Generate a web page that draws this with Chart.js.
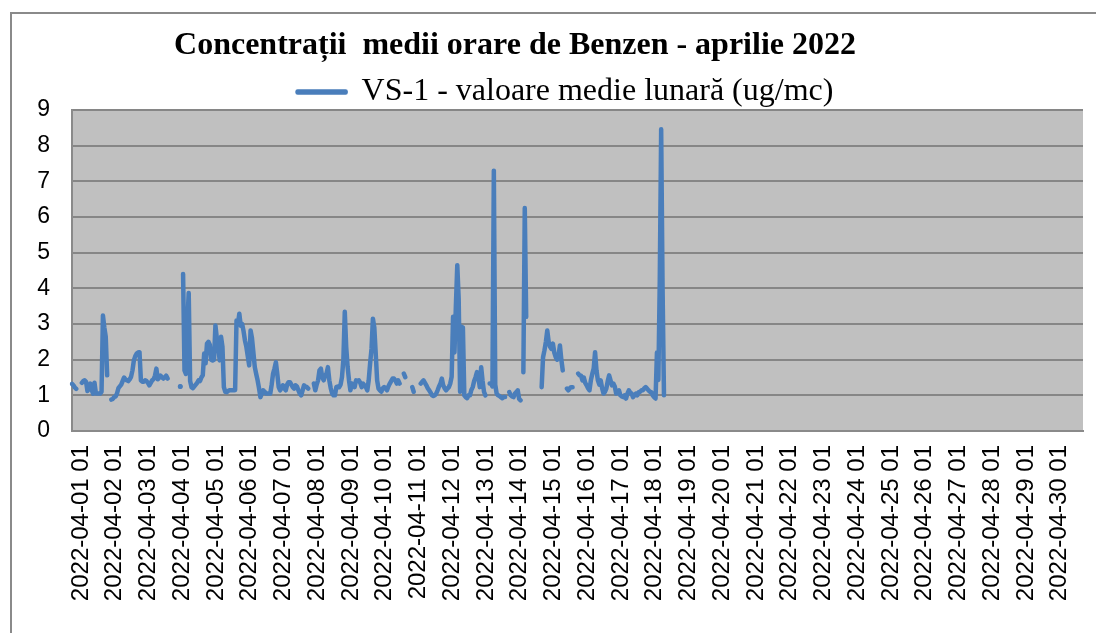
<!DOCTYPE html>
<html>
<head>
    <title>Benzen - aprilie 2022</title>
    <script src="https://cdn.jsdelivr.net/npm/chart.js"></script>
    <style>
        body {
            margin: 0;
            background: white;
            overflow: hidden;
        }
        #frame {
            position: absolute;
            left: 10px;
            top: 12px;
            width: 1200px;
            height: 700px;
            border: 2px solid #8a8a8a;
        }
        #wrap {
            position: absolute;
            left: 0;
            top: 0;
            width: 1133px;
            height: 633px;
        }
    </style>
</head>
<body>
    <div id="frame"></div>
    <div id="wrap"><canvas id="benzenChart" width="1133" height="633"></canvas></div>
    <script>
        const chartTitle = 'Concentrații  medii orare de Benzen - aprilie 2022';
        const seriesName = 'VS-1 - valoare medie lunară (ug/mc)';
        const yTicks = [0, 1, 2, 3, 4, 5, 6, 7, 8, 9];
        const days = ['01', '02', '03', '04', '05', '06', '07', '08', '09', '10',
                      '11', '12', '13', '14', '15', '16', '17', '18', '19', '20',
                      '21', '22', '23', '24', '25', '26', '27', '28', '29', '30'];

        // valori orare, cate 24 pe zi (de la ora 01)
        const day01 = [1.32, 1.28, 1.22, 1.18, null, null, null, 1.35, 1.40, 1.42, 1.38, 1.12, 1.20, 1.33, 1.15, 1.05, 1.35, 1.05, 1.05, 1.05, 1.05, 1.10, 3.24, 2.90];
        const day02 = [2.64, 1.56, null, null, 0.88, 0.90, 0.95, 0.97, 1.05, 1.20, 1.25, 1.30, 1.40, 1.50, 1.45, 1.42, 1.40, 1.45, 1.52, 1.70, 1.98, 2.10, 2.17, 2.20];
        const day03 = [2.21, 1.42, 1.38, 1.38, 1.42, 1.40, 1.35, 1.28, 1.35, 1.42, 1.45, 1.55, 1.75, 1.45, 1.50, 1.55, 1.50, 1.47, 1.50, 1.55, 1.47, null, null, null];
        const day04 = [null, null, null, null, null, 1.25, null, 4.40, 1.70, 1.60, 3.00, 3.87, 1.40, 1.23, 1.20, 1.25, 1.30, 1.35, 1.42, 1.40, 1.50, 1.56, 2.17, 1.90];
        const day05 = [2.45, 2.50, 2.42, 2.00, 1.98, 2.00, 2.96, 2.60, 2.36, 1.98, 2.64, 2.36, 1.23, 1.10, 1.09, 1.12, 1.14, 1.14, 1.14, 1.14, 1.15, 3.10, 3.00, 3.29];
        const day06 = [2.95, 3.00, 2.80, 2.54, 2.36, 2.10, 1.84, 2.82, 2.60, 2.20, 1.79, 1.60, 1.42, 1.20, 0.95, 1.05, 1.14, 1.10, 1.05, 1.05, 1.05, 1.05, 1.30, 1.61];
        const day07 = [1.75, 1.93, 1.60, 1.23, 1.14, 1.20, 1.28, 1.20, 1.14, 1.30, 1.37, 1.37, 1.30, 1.23, 1.19, 1.28, 1.25, 1.14, 1.05, 1.00, 1.14, 1.28, 1.25, 1.23];
        const day08 = [1.19, null, null, null, 1.33, 1.14, 1.30, 1.42, 1.70, 1.75, 1.50, 1.42, 1.55, 1.61, 1.79, 1.42, 1.20, 1.05, 1.00, 1.00, 1.23, 1.25, 1.23, 1.30];
        const day09 = [1.51, 2.00, 3.34, 2.36, 1.80, 1.42, 1.14, 1.33, 1.30, 1.23, 1.42, 1.40, 1.42, 1.35, 1.23, 1.33, 1.28, 1.23, 1.14, 1.42, 1.89, 2.30, 3.15, 2.90];
        const day10 = [2.17, 1.42, 1.19, 1.14, 1.10, 1.20, 1.23, 1.20, 1.14, 1.25, 1.33, 1.40, 1.47, 1.47, 1.42, 1.33, 1.42, 1.33, null, null, 1.61, 1.51, null, null];
        const day11 = [null, null, 1.23, 1.10, null, null, null, null, 1.33, 1.38, 1.42, 1.35, 1.28, 1.20, 1.14, 1.08, 1.00, 0.98, 1.00, 1.05, 1.14, 1.25, 1.33, 1.47];
        const day12 = [1.28, 1.20, 1.14, 1.19, 1.23, 1.33, 1.52, 3.20, 2.20, 3.50, 4.65, 3.70, 1.10, 2.92, 2.90, 1.00, 0.95, 0.92, 1.00, 1.00, 1.15, 1.23, 1.40, 1.51];
        const day13 = [1.65, 1.50, 1.23, 1.79, 1.40, 1.10, 1.00, null, null, 1.33, 1.33, 1.25, 7.30, 1.30, 1.05, 1.00, 0.98, 0.95, 0.92, 0.95, 0.95, null, null, 1.09];
        const day14 = [1.00, 0.97, 0.95, 1.05, 1.09, 1.14, 0.90, 0.86, null, 1.65, 6.25, 3.20, null, null, null, null, null, null, null, null, null, null, 1.23, 2.07];
        const day15 = [2.26, 2.50, 2.82, 2.50, 2.36, 2.30, 2.45, 2.20, 2.07, 2.00, 2.10, 2.40, 2.00, 1.70, null, null, 1.19, 1.14, 1.20, 1.23, 1.23, null, null, null];
        const day16 = [1.61, 1.56, 1.55, 1.42, 1.50, 1.35, 1.28, 1.20, 1.14, 1.42, 1.60, 1.75, 2.21, 1.70, 1.42, 1.30, 1.42, 1.20, 1.05, 1.10, 1.19, 1.40, 1.56, 1.42];
        const day17 = [1.28, 1.33, 1.25, 1.05, 1.10, 1.14, 1.00, 0.97, 0.95, 1.00, 0.91, 1.05, 1.14, 1.08, 1.05, 0.95, 1.00, 1.05, 1.00, 1.09, 1.10, 1.14, 1.14, 1.20];
        const day18 = [1.23, 1.19, 1.14, 1.10, 1.09, 1.00, 0.95, 0.91, 2.20, 1.43, 4.20, 8.46, 4.00, 1.00];

        const vs1 = [].concat(day01, day02, day03, day04, day05, day06, day07, day08, day09,
                              day10, day11, day12, day13, day14, day15, day16, day17, day18);

        // etichete orare 2022-04-01 01 ... 2022-05-01 00
        const hours = [];
        for (let d = 0; d < days.length; d++) {
            for (let h = 1; h <= 24; h++) {
                if (h < 24) hours.push(`2022-04-${days[d]} ${String(h).padStart(2, '0')}`);
                else hours.push(d < days.length - 1 ? `2022-04-${days[d + 1]} 00` : '2022-05-01 00');
            }
        }

        const plotBg = {
            id: 'plotBg',
            beforeDraw(chart) {
                const {ctx, chartArea: a} = chart;
                ctx.save();
                ctx.fillStyle = '#c0c0c0';
                ctx.fillRect(a.left, a.top, a.right - a.left, a.bottom - a.top);
                ctx.restore();
            }
        };

        const titleText = {
            id: 'titleText',
            afterDraw(chart) {
                const ctx = chart.ctx;
                ctx.save();
                ctx.font = 'bold 32px "Liberation Serif"';
                ctx.fillStyle = '#000';
                ctx.textAlign = 'center';
                ctx.textBaseline = 'middle';
                ctx.fillText(chartTitle, 515, 46);
                ctx.restore();
            }
        };

        // muta legenda putin in jos/dreapta fara sa schimbe zona graficului
        const legendShift = {
            id: 'legendShift',
            afterLayout(chart) {
                const l = chart.legend;
                if (!l) return;
                l.top += 8; l.bottom += 8;
                l.left += 6; l.right += 6;
            }
        };

        const ctx = document.getElementById('benzenChart').getContext('2d');
        new Chart(ctx, {
            type: 'line',
            data: {
                labels: hours,
                datasets: [{
                    label: seriesName,
                    data: vs1,
                    borderColor: '#4a7ebb',
                    backgroundColor: '#4a7ebb',
                    borderWidth: 4.5,
                    borderJoinStyle: 'round',
                    borderCapStyle: 'round',
                    pointRadius: (c) => {
                        const i = c.dataIndex;
                        const v = vs1[i];
                        if (v == null) return 0;
                        return (vs1[i - 1] == null && vs1[i + 1] == null) ? 2.5 : 0;
                    },
                    pointBorderWidth: 0,
                    spanGaps: false,
                    tension: 0
                }]
            },
            plugins: [plotBg, titleText, legendShift],
            options: {
                responsive: false,
                animation: false,
                devicePixelRatio: 1,
                layout: { padding: { top: 66, right: 50, left: 36, bottom: 0 } },
                plugins: {
                    legend: {
                        position: 'top',
                        labels: {
                            boxWidth: 48,
                            boxHeight: 1,
                            padding: 2,
                            color: '#000',
                            font: { family: '"Liberation Serif"', size: 32 }
                        }
                    },
                    tooltip: { enabled: false }
                },
                scales: {
                    x: {
                        afterFit(scale) { scale.height = 202; },
                        grid: { display: false, drawTicks: false },
                        border: { color: '#8a8a8a', width: 2 },
                        ticks: {
                            autoSkip: false,
                            maxRotation: 90,
                            minRotation: 90,
                            padding: 14,
                            labelOffset: 9,
                            color: '#000',
                            font: { family: '"Liberation Sans"', size: 24 },
                            callback: (val, i) => (i % 24 === 0 ? hours[i] : null)
                        }
                    },
                    y: {
                        min: 0,
                        max: 9,
                        afterFit(scale) { scale.width = 36; },
                        afterBuildTicks(scale) { scale.ticks = yTicks.map(v => ({ value: v })); },
                        grid: { color: '#868686', lineWidth: 2, drawTicks: false },
                        border: { color: '#8a8a8a', width: 2 },
                        ticks: {
                            padding: 22,
                            color: '#000',
                            font: { family: '"Liberation Sans"', size: 23 }
                        }
                    }
                }
            }
        });
    </script>
</body>
</html>
